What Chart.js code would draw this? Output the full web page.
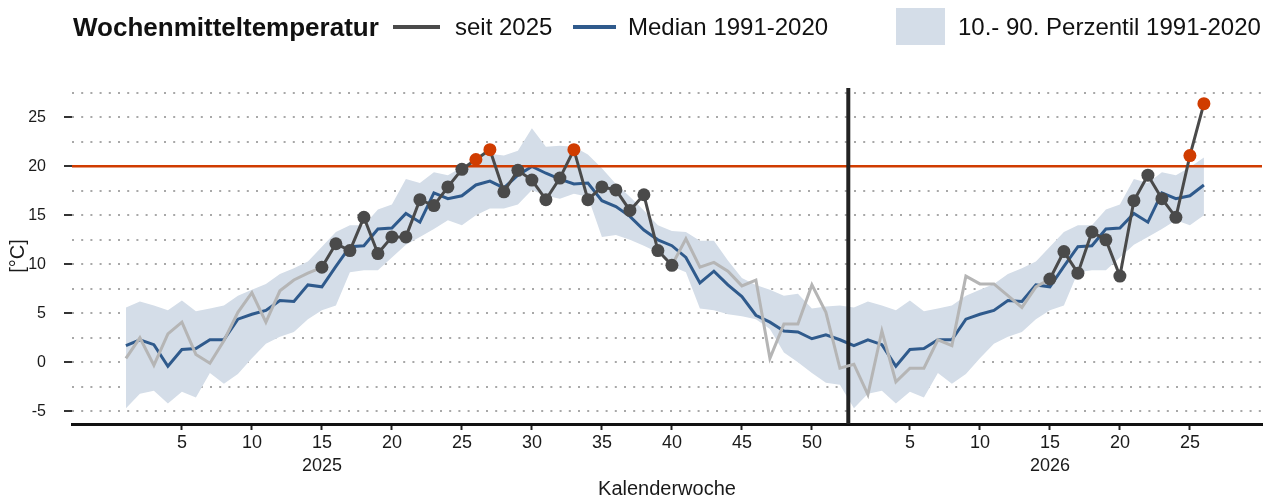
<!DOCTYPE html>
<html>
<head>
<meta charset="utf-8">
<script src="https://cdn.jsdelivr.net/npm/chart.js@4.4.1/dist/chart.umd.min.js"></script>
<style>
  body { margin: 0; background: #fff; font-family: "Liberation Sans", Arial, sans-serif; }
  #wrap { position: relative; width: 1273px; height: 499px; }
  #legend { position: absolute; left: 0; top: 0; width: 1273px; height: 56px; color: #111; }
  #legend .txt { position: absolute; top: 27px; transform: translateY(-50%); font-size: 24px; white-space: nowrap; }
  #legend .ttl { font-weight: bold; font-size: 26px; }
  #legend .ln { position: absolute; height: 4px; top: 25px; }
  #legend .box { position: absolute; top: 8px; width: 49px; height: 37px; }
</style>
</head>
<body>
<div id="wrap">
  <canvas id="chart" width="1273" height="499"></canvas>
  <div id="legend"></div>
</div>
<script>
// Klimatologie 1991-2020 je Kalenderwoche (1..52)
const median = [1.7, 2.3, 1.8, -0.4, 1.3, 1.4, 2.3, 2.3, 4.4, 4.9, 5.3, 6.3, 6.2, 7.9, 7.7, 9.8,
  11.8, 11.9, 13.6, 13.7, 15.2, 14.3, 17.3, 16.7, 17.0, 18.1, 18.5, 17.8, 19.1, 20.0, 19.3, 18.7,
  18.2, 18.3, 16.5, 15.9, 14.9, 13.5, 12.5, 11.9, 10.7, 8.1, 9.3, 7.9, 6.7, 4.8, 4.1, 3.2, 3.1,
  2.4, 2.8, 2.3];
const p90 = [5.6, 6.2, 5.8, 5.3, 6.3, 5.2, 5.5, 5.8, 6.8, 7.4, 8.0, 9.0, 9.6, 10.3, 11.8, 13.3,
  14.0, 14.0, 15.6, 16.1, 18.7, 18.3, 19.4, 19.1, 19.9, 20.9, 21.3, 21.1, 21.6, 23.9, 22.0, 22.1,
  22.0, 21.2, 19.8, 18.2, 16.9, 15.5, 14.0, 13.4, 13.3, 12.4, 12.4, 10.4, 8.6, 7.9, 7.4, 6.8, 7.0,
  5.5, 5.7, 5.8];
const p10 = [-4.7, -3.2, -2.9, -4.2, -3.0, -3.6, -1.1, -2.2, -1.2, 0.4, 1.9, 2.6, 3.1, 4.4, 5.3, 5.8,
  9.2, 9.4, 9.4, 10.7, 12.0, 12.8, 13.6, 14.5, 14.0, 15.0, 15.7, 15.7, 16.1, 17.6, 17.0, 16.7,
  17.2, 16.9, 12.8, 13.0, 12.5, 11.9, 11.2, 9.8, 9.2, 5.5, 5.3, 4.9, 4.7, 4.4, 3.4, 1.0, 0.0,
  -1.1, -2.1, -2.3];

// Wochenmittel seit 2025
const temp2025 = [0.4, 2.5, -0.3, 2.9, 4.1, 0.8, -0.1, 2.2, 5.1, 7.1, 4.1, 7.3, 8.4, 9.1, 9.7, 12.1,
  11.4, 14.8, 11.1, 12.8, 12.8, 16.6, 16.0, 17.9, 19.7, 20.7, 21.7, 17.4, 19.6, 18.6, 16.6, 18.8,
  21.7, 16.6, 17.9, 17.6, 15.5, 17.1, 11.4, 9.9, 12.6, 9.7, 10.2, 9.3, 7.8, 8.4, 0.4, 3.9, 3.9,
  7.9, 5.1, -0.6];
const temp2026 = [-0.2, -3.3, 3.2, -2.0, -0.6, -0.6, 2.3, 1.7, 8.8, 8.0, 8.0, 6.8, 5.6, 7.7, 8.5,
  11.3, 9.1, 13.3, 12.5, 8.8, 16.5, 19.1, 16.7, 14.8, 21.1, 26.4];

const years = ['2025', '2026'];
const weeksPerYear = 52;
const seasonFrom = 15, seasonTo = 40;     // Wochen mit Punkten
const threshold = 20;
const yearBreak = 52.6;
const xMin = -2.85, xMax = 82.15;
const yMin = -6.3, yMax = 28;
const xTickWeeks = [5, 10, 15, 20, 25, 30, 35, 40, 45, 50];
const yGrid = [-5, -2.5, 0, 2.5, 5, 7.5, 10, 12.5, 15, 17.5, 20, 22.5, 25, 27.5];

const cDark = '#4a4a4a', cLight = '#b5b5b5', cBlue = '#2f5a8c', cBand = '#d4dde8', cRed = '#d03c00';

// Positionen: 2025 Woche w -> w, 2026 Woche w -> 52 + w
const xOf = (yearIdx, w) => yearIdx * weeksPerYear + w;
const climWeeks = [];
for (let w = 1; w <= weeksPerYear; w++) climWeeks.push([0, w]);
for (let w = 1; w <= temp2026.length; w++) climWeeks.push([1, w]);

const medianPts = climWeeks.map(([y, w]) => ({ x: xOf(y, w), y: median[w - 1] }));
const p90Pts = climWeeks.map(([y, w]) => ({ x: xOf(y, w), y: p90[w - 1] }));
const p10Pts = climWeeks.map(([y, w]) => ({ x: xOf(y, w), y: p10[w - 1] }));
const tempPts = temp2025.map((v, i) => ({ x: xOf(0, i + 1), y: v, season: i + 1 >= seasonFrom && i + 1 <= seasonTo }))
  .concat(temp2026.map((v, i) => ({ x: xOf(1, i + 1), y: v, season: i + 1 >= seasonFrom })));

const inSeason = (i) => tempPts[i] && tempPts[i].season;

const xTicks = [];
xTickWeeks.forEach(w => xTicks.push(xOf(0, w)));
xTickWeeks.filter(w => w <= temp2026.length).forEach(w => xTicks.push(xOf(1, w)));

// Legende
const legend = document.getElementById('legend');
legend.innerHTML =
  '<span class="txt ttl" style="left:73px">Wochenmitteltemperatur</span>' +
  '<span class="ln" style="left:393px;width:47px;background:' + cDark + '"></span>' +
  '<span class="txt" style="left:455px">seit 2025</span>' +
  '<span class="ln" style="left:573px;width:43px;background:' + cBlue + '"></span>' +
  '<span class="txt" style="left:628px">Median 1991-2020</span>' +
  '<span class="box" style="left:896px;background:' + cBand + '"></span>' +
  '<span class="txt" style="left:958px">10.- 90. Perzentil 1991-2020</span>';

const fontFam = '"Liberation Sans", Arial, sans-serif';

new Chart(document.getElementById('chart'), {
  type: 'line',
  data: {
    datasets: [
      {
        label: 'seit 2025',
        data: tempPts,
        borderWidth: 3,
        borderColor: cLight,
        segment: {
          borderColor: c => (inSeason(c.p0DataIndex) && inSeason(c.p1DataIndex)) ? cDark : cLight
        },
        pointRadius: c => inSeason(c.dataIndex) ? 6.5 : 0,
        pointBackgroundColor: c => c.raw.y > threshold ? cRed : cDark,
        pointBorderWidth: 0,
        order: 0
      },
      {
        label: 'Jahreswechsel',
        data: [{ x: yearBreak, y: yMin }, { x: yearBreak, y: yMax }],
        borderColor: '#222',
        borderWidth: 4,
        pointRadius: 0,
        order: 1
      },
      {
        label: 'Schwelle',
        data: [{ x: xMin, y: threshold }, { x: xMax, y: threshold }],
        borderColor: cRed,
        borderWidth: 2.5,
        pointRadius: 0,
        order: 2
      },
      {
        label: 'Median 1991-2020',
        data: medianPts,
        borderColor: cBlue,
        borderWidth: 3,
        pointRadius: 0,
        order: 3
      },
      {
        label: '90. Perzentil',
        data: p90Pts,
        borderWidth: 0,
        borderColor: 'rgba(0,0,0,0)',
        backgroundColor: cBand,
        pointRadius: 0,
        fill: '+1',
        order: 4
      },
      {
        label: '10. Perzentil',
        data: p10Pts,
        borderWidth: 0,
        borderColor: 'rgba(0,0,0,0)',
        pointRadius: 0,
        fill: false,
        order: 5
      }
    ]
  },
  options: {
    responsive: false,
    animation: false,
    devicePixelRatio: 1,
    layout: { padding: { left: 0, right: 11, top: 88, bottom: 0 } },
    elements: { line: { tension: 0 } },
    plugins: { legend: { display: false }, tooltip: { enabled: false } },
    scales: {
      x: {
        type: 'linear',
        min: xMin,
        max: xMax,
        afterBuildTicks: s => { s.ticks = xTicks.map(v => ({ value: v })); },
        afterFit: s => { s.height = 75; },
        grid: { drawOnChartArea: false, drawTicks: true, tickLength: 6, tickColor: '#222', tickWidth: 2 },
        border: { display: true, color: '#111', width: 3 },
        ticks: {
          autoSkip: false,
          maxRotation: 0,
          padding: 1,
          color: '#1a1a1a',
          font: { family: fontFam, size: 18, lineHeight: 1.3 },
          callback: v => {
            const yi = v > weeksPerYear ? 1 : 0;
            const w = v - yi * weeksPerYear;
            return w === 15 ? [String(w), years[yi]] : String(w);
          }
        },
        title: {
          display: true,
          text: 'Kalenderwoche',
          color: '#1a1a1a',
          font: { family: fontFam, size: 20, lineHeight: 1 },
          padding: { top: 4, bottom: 0 }
        }
      },
      y: {
        min: yMin,
        max: yMax,
        afterBuildTicks: s => { s.ticks = yGrid.map(v => ({ value: v })); },
        afterFit: s => { s.width = 72; },
        grid: {
          color: '#a8a8a8',
          lineWidth: 2,
          drawTicks: true,
          tickLength: 8,
          tickWidth: 2,
          tickColor: c => (c.tick && c.tick.value % 5 === 0) ? '#333' : 'rgba(0,0,0,0)'
        },
        border: { display: false, dash: [2, 7.2] },
        ticks: {
          padding: 18,
          color: '#1a1a1a',
          font: { family: fontFam, size: 16 },
          callback: v => (v % 5 === 0 ? String(v) : '')
        },
        title: {
          display: true,
          text: '[°C]',
          color: '#1a1a1a',
          font: { family: fontFam, size: 20, lineHeight: 1.2 },
          padding: { top: 6, bottom: 0 }
        }
      }
    }
  }
});
</script>
</body>
</html>
